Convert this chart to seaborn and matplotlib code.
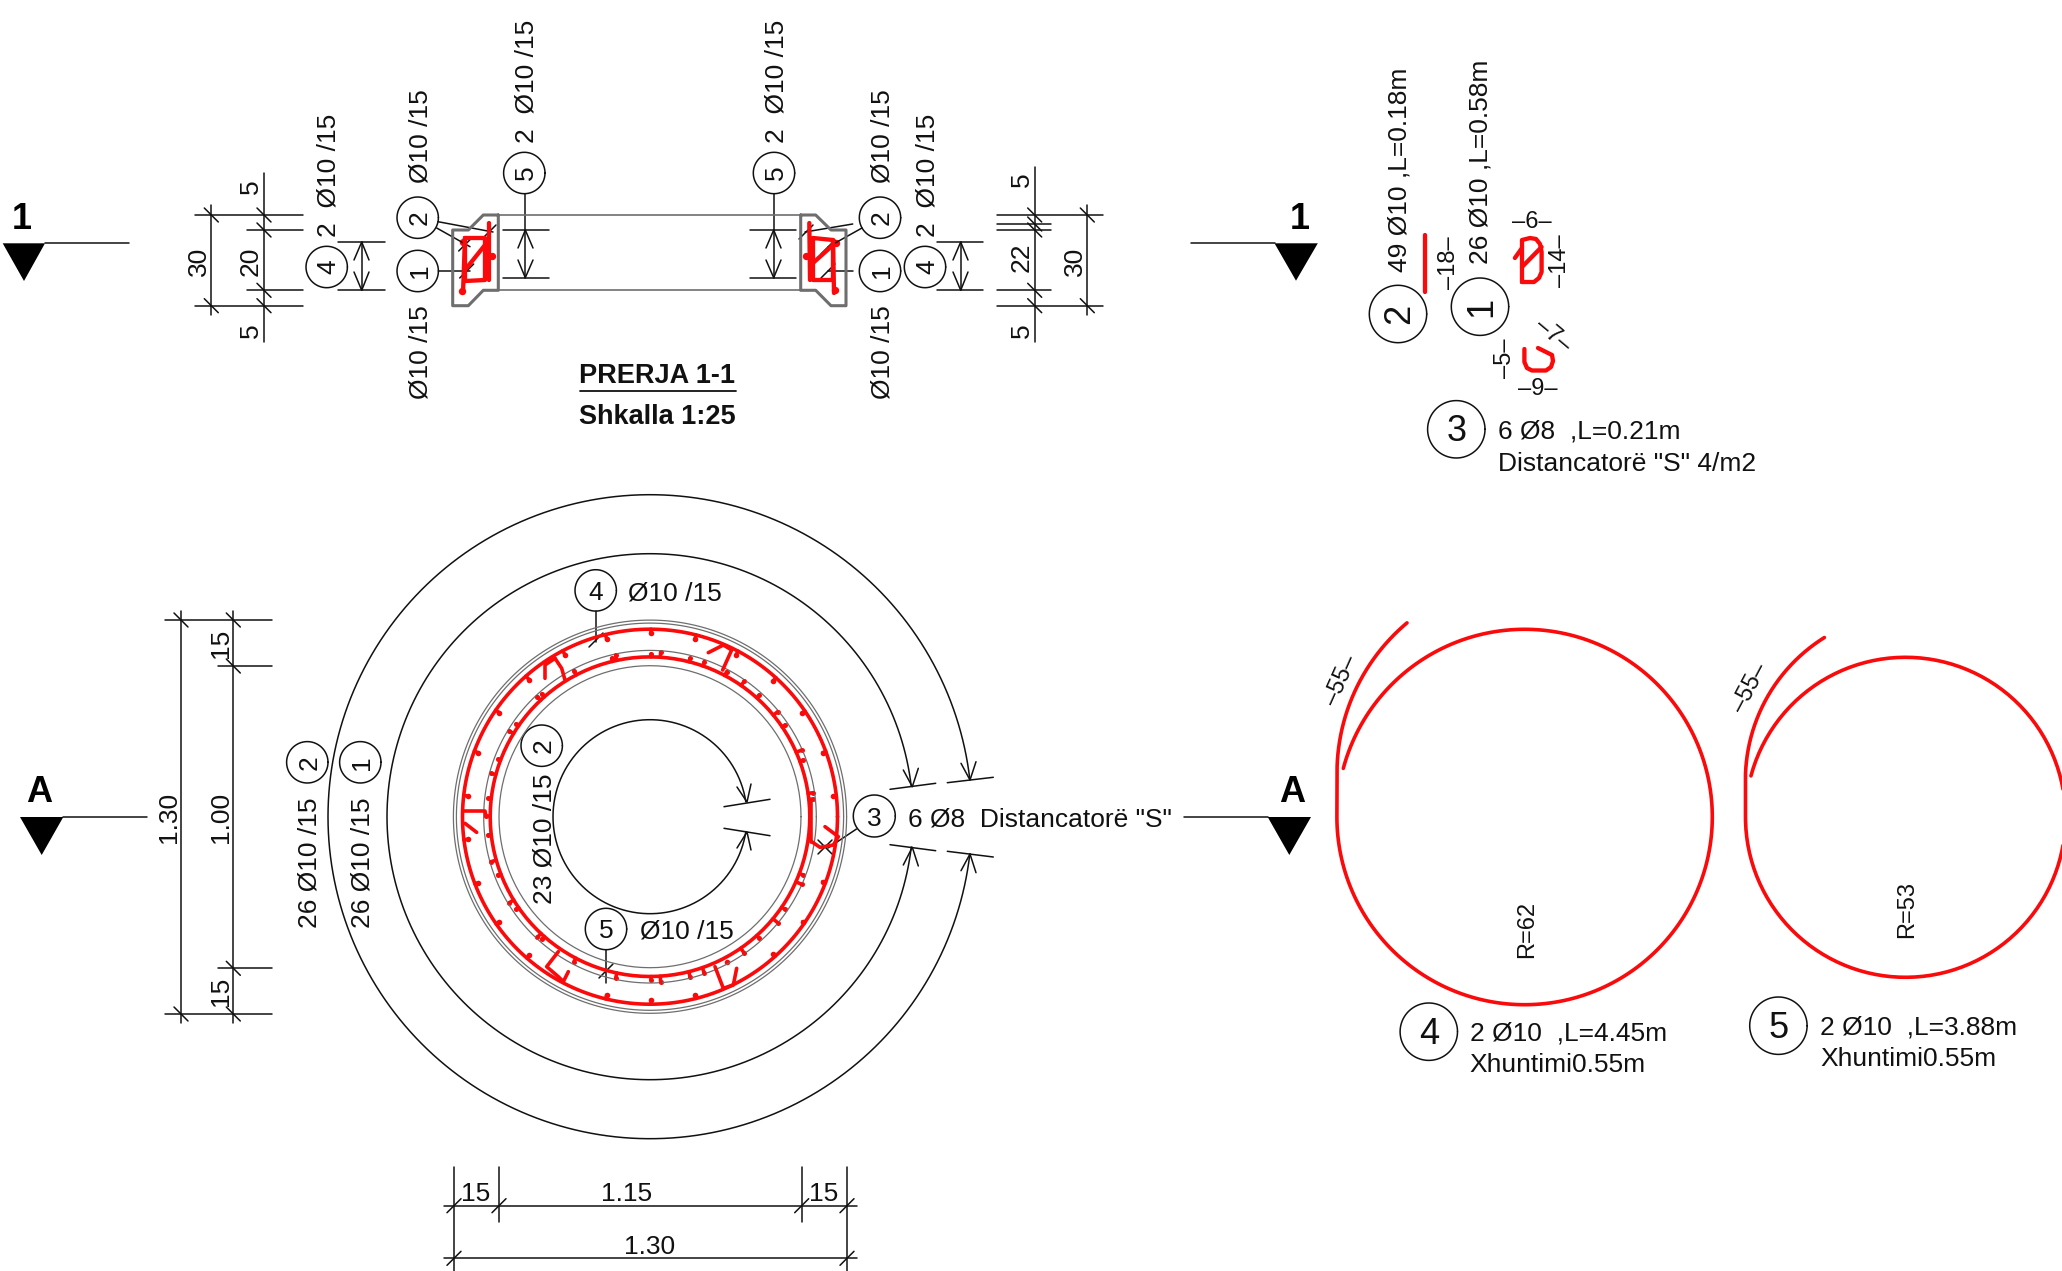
import numpy as np
import pandas as pd
import seaborn as sns
import matplotlib.pyplot as plt

WIDTH, HEIGHT = 2062, 1271
FONT = "Liberation Sans"
BLACK = "#111111"
GREY = "#6e6e6e"
RED = "#fa0a0a"

# plan centre and the radii of the section rings
PLAN_X, PLAN_Y = 650, 816.7
GREY_RADII = [196.6, 193.6, 166.3, 151]
RED_RADII = [187.5, 159.8]

# thin dimension and leader lines, pixel position on the sheet
DIM_LINES = [
    [(195, 215), (303, 215)], [(195, 305.7), (303, 305.7)],
    [(247, 230), (303, 230)], [(247, 290.3), (303, 290.3)],
    [(211.3, 205), (211.3, 315)], [(264, 173), (264, 342)],
    [(338, 242), (385, 242)], [(338, 290.3), (385, 290.3)], [(361.7, 242), (361.7, 290.3)],
    [(525.3, 194), (525.3, 277.7)], [(502.7, 230), (548.7, 230)], [(502.7, 277.7), (548.7, 277.7)],
    [(438, 221.7), (493, 232)], [(436.7, 228), (470, 246.7)], [(439, 271), (470, 271)],
    [(773.7, 194), (773.7, 277.7)], [(750, 230), (796, 230)], [(750, 277.7), (796, 277.7)],
    [(852.7, 224), (805, 232)], [(862, 228), (828, 247)], [(852.7, 271), (828, 271)],
    [(937, 242), (983, 242)], [(937, 290.3), (983, 290.3)], [(960.7, 242), (960.7, 290.3)],
    [(996.7, 215), (1103, 215)], [(996.7, 305.7), (1103, 305.7)],
    [(996.7, 224), (1051, 224)], [(996.7, 230), (1051, 230)], [(996.7, 290.3), (1051, 290.3)],
    [(1034.7, 167), (1034.7, 342)], [(1087.3, 205), (1087.3, 315)],
    [(165, 620), (271.7, 620)], [(165, 1014), (271.7, 1014)],
    [(217.7, 666), (271.7, 666)], [(217.7, 968.3), (271.7, 968.3)],
    [(181, 610.7), (181, 1023)], [(233.3, 610.7), (233.3, 1023)],
    [(444, 1205.7), (856.7, 1205.7)], [(444, 1258.3), (856.7, 1258.3)],
    [(454, 1167), (454, 1271)], [(847, 1167), (847, 1271)],
    [(499, 1167), (499, 1222)], [(801.7, 1167), (801.7, 1222)],
    [(596, 611), (596, 642)], [(606, 950), (606, 983)], [(856.5, 829), (828, 848)],
    [(890, 789.3), (935.7, 783.3)], [(947.3, 782.7), (993.3, 777.3)],
    [(890, 844.7), (935.7, 850.7)], [(947.3, 851.3), (993.3, 857)],
    [(724, 806.7), (770, 799.3)], [(724, 828.3), (770, 835.7)],
]

# open arrow heads: wing, tip, wing
ARROW_HEADS = [
    [(354, 260), (361.7, 242), (369, 260)], [(354, 272), (361.7, 290.3), (369, 272)],
    [(518, 248), (525.3, 230), (533, 248)], [(518, 260), (525.3, 277.7), (533, 260)],
    [(766, 248), (773.7, 230), (781, 248)], [(766, 260), (773.7, 277.7), (781, 260)],
    [(953, 260), (960.7, 242), (968, 260)], [(953, 272), (960.7, 290.3), (968, 272)],
    [(903.3, 770), (912.3, 786.7), (918.3, 768.3)], [(961, 763.3), (970, 780), (976, 761.7)],
    [(903.3, 865), (912.3, 847.3), (918.3, 866)], [(961, 870.7), (970, 854), (976, 872.7)],
    [(737, 787), (747, 802), (751, 784)], [(737, 848), (747, 832), (751, 850)],
]

# 45 degree dimension ticks
TICKS_BACK = [(211.3, 215), (211.3, 305.7), (264, 215), (264, 230), (264, 290.3), (264, 305.7),
              (1034.7, 215), (1034.7, 224), (1034.7, 230), (1034.7, 290.3), (1034.7, 305.7),
              (1087.3, 215), (1087.3, 305.7),
              (181, 620), (181, 1014), (233.3, 620), (233.3, 666), (233.3, 968.3), (233.3, 1014)]
TICKS_FWD = [(465.7, 244), (466.7, 271), (489, 232), (806, 232), (828, 247), (828, 271),
             (454, 1205.7), (499, 1205.7), (801.7, 1205.7), (847, 1205.7),
             (454, 1258.3), (847, 1258.3), (596, 640), (606, 971), (825, 847)]
TICK_CROSS = [(825, 847)]

# circled position marks: x, y, radius, label, font size
MARKS = [
    (326.7, 267, 20.7, "4", 19), (417.7, 217.7, 20.7, "2", 19), (417.7, 271, 20.7, "1", 19),
    (524.3, 173, 20.7, "5", 19), (774, 173, 20.7, "5", 19), (880, 217.7, 20.7, "2", 19),
    (880, 271, 20.7, "1", 19), (925, 267, 20.7, "4", 19),
    (307.3, 762.3, 20.7, "2", 19), (360.3, 762.3, 20.7, "1", 19), (541.7, 745.7, 20.7, "2", 19),
    (1398, 314, 28.7, "2", 26), (1480, 306.7, 28.7, "1", 26),
]
MARKS_FLAT = [
    (595.7, 590.4, 20.7, "4", 19), (606, 929, 20.7, "5", 19), (874.3, 816, 21, "3", 19),
    (1456.3, 429.3, 28.7, "3", 26), (1428.8, 1031.7, 28.7, "4", 26), (1778.4, 1025.7, 28.7, "5", 26),
]

# rotated texts: x, y, label, size
TEXT_UP = [
    (197, 261, "30", 19), (249, 261, "20", 19), (249, 187, "5", 19), (249, 331, "5", 19),
    (327, 175, "2  Ø10 /15", 19), (418, 136, "Ø10 /15", 19), (418, 352, "Ø10 /15", 19),
    (525, 81, "2  Ø10 /15", 19), (774, 81, "2  Ø10 /15", 19),
    (881, 136, "Ø10 /15", 19), (881, 352, "Ø10 /15", 19), (925.7, 175, "2  Ø10 /15", 19),
    (1020, 180, "5", 19), (1020, 257, "22", 19), (1020, 331, "5", 19), (1072.7, 261, "30", 19),
    (166.7, 817.7, "1.30", 19), (219, 817.7, "1.00", 19), (219, 643, "15", 19), (219, 991.7, "15", 19),
    (307.3, 863, "26 Ø10 /15", 19), (361, 863, "26 Ø10 /15", 19), (542.7, 839, "23 Ø10 /15", 19),
    (1397.4, 169.5, "49 Ø10 ,L=0.18m", 19), (1478.5, 161.5, "26 Ø10 ,L=0.58m", 19),
]
TEXT_FLAT_CENTER = [
    (475.7, 1191.7, "15"), (626.7, 1191.7, "1.15"), (823.3, 1191.7, "15"), (649.3, 1244, "1.30"),
]
TEXT_FLAT_LEFT = [
    (628, 591, "Ø10 /15"), (640, 929, "Ø10 /15"), (908.3, 817, '6 Ø8  Distancatorë "S"'),
    (1498.4, 429, "6 Ø8  ,L=0.21m"), (1498.4, 461.7, 'Distancatorë "S" 4/m2'),
    (1469.7, 1031, "2 Ø10  ,L=4.45m"), (1469.7, 1063, "Xhuntimi0.55m"),
    (1820.3, 1025, "2 Ø10  ,L=3.88m"), (1820.3, 1056.7, "Xhuntimi0.55m"),
]
# bar dimensions written along the bar: x, y, label, rotation
BAR_DIMS = [
    (1449, 262.7, "–18–", 90), (1532, 221.7, "–6–", 0), (1560, 260.7, "–14–", 90),
    (1505, 358, "–5–", 90), (1538, 389, "–9–", 0), (1553, 335, "–7–", -40),
    (1341, 680, "–55–", 66), (1750.4, 688, "–55–", 62),
]
RADIUS_LABELS = [(1525, 929, "R=62"), (1905.5, 910, "R=53")]

# section outlines
SECTION_LEFT = [(498.3, 215), (483.3, 215), (468.3, 230), (452.7, 230), (452.7, 305.7), (468.3, 305.7),
                (483.3, 290.3), (498.3, 290.3), (498.3, 215)]
SECTION_RIGHT = [(800.7, 215), (815.7, 215), (831, 230), (846, 230), (846, 305.7), (831, 305.7),
                 (815.7, 290.3), (800.7, 290.3), (800.7, 215)]
WALL_LINES = [[(498.3, 215), (800.7, 215)], [(498.3, 290.3), (800.7, 290.3)]]

# cut markers: line, triangle
CUT_LINES = [[(45, 243.3), (129, 243.3)], [(1190.7, 243.3), (1275, 243.3)],
             [(63, 817), (146.7, 817)], [(1184, 817), (1268, 817)]]
CUT_TRIANGLES = [
    [(2.7, 243.3), (45, 243.3), (24, 281)], [(1274.5, 243.3), (1317.8, 243.3), (1296, 280.7)],
    [(20, 817), (63.3, 817), (41.7, 855)], [(1267.7, 817), (1311, 817), (1289.3, 855)],
]
CUT_LABELS = [(21.7, 217, "1"), (1299.4, 217, "1"), (38.7, 790, "A"), (1292.3, 790, "A")]

# red bars of section 1-1
RED_SECTION = [
    [(489.3, 223), (489.3, 280)],
    [(465, 238), (485, 238), (485, 280), (465, 281), (465, 238)],
    [(465, 270), (485, 245)], [(463, 293), (465, 238)],
    [(809.3, 223), (810, 280)],
    [(813, 238), (833, 240), (833, 280), (813, 280), (813, 238)],
    [(833, 240), (834, 293)], [(813, 263), (833, 245)],
]
RED_SECTION_DOTS = [(461.5, 291), (463, 242), (491.5, 256), (835, 290), (836, 243), (806, 256)]

# red bar shapes next to the section
RED_BAR_18 = [(1425, 235), (1425, 291.7)]
RED_BAR_D = [(1522, 282), (1522, 240), (1530, 238), (1536, 239), (1540, 244), (1541.6, 252),
             (1541.6, 272), (1539, 278), (1534, 282), (1522, 282)]
RED_BAR_D2 = [(1514.9, 258), (1522, 248)]
RED_BAR_D3 = [(1522, 267), (1541.6, 247)]
RED_BAR_S = [(1524.4, 349), (1524.4, 362), (1527, 368), (1532, 370.5), (1546, 370.5), (1551, 367),
             (1553, 361), (1552, 355), (1538, 348)]

# hooks and stirrups on the plan, crop position
HOOKS_PLAN = [
    [(375, 175), (395, 205), (405, 240)], [(345, 235), (345, 195), (375, 175)],
    [(835, 158), (880, 135), (905, 150), (878, 210)],
    [(100, 633), (165, 633), (168, 650)], [(105, 670), (140, 697)],
    [(385, 1055), (350, 1100), (385, 1130), (400, 1145), (415, 1115)],
    [(855, 1100), (880, 1165), (910, 1155), (920, 1105)],
    [(1145, 725), (1170, 742), (1210, 735), (1225, 710), (1185, 680)],
    [(1142, 600), (1142, 725)],
]
DOTS_OUTER = [(663, 100), (795, 118), (1030, 242), (1115, 340), (1178, 458), (1210, 588), (1178, 845),
              (1118, 965), (1030, 1062), (795, 1185), (663, 1200), (530, 1185), (298, 1065), (208, 965),
              (145, 848), (115, 718), (115, 588), (145, 458), (208, 338), (298, 240), (530, 118),
              (405, 165), (918, 165), (890, 1085)]
DOTS_INNER = [(663, 162), (692, 157), (780, 175), (823, 185), (890, 215), (943, 243), (988, 285),
              (1043, 335), (1065, 375), (1115, 450), (1120, 480), (1150, 578), (1148, 597), (1120, 825),
              (1115, 853), (1065, 928), (1043, 968), (988, 1015), (943, 1060), (823, 1120), (780, 1130),
              (692, 1146), (663, 1140), (557, 1135), (432, 1085), (335, 1018), (322, 1012), (258, 928),
              (238, 908), (203, 825), (183, 785), (175, 705), (168, 648), (175, 595), (183, 520),
              (205, 478), (238, 393), (258, 372), (322, 290), (335, 282), (432, 212), (545, 175), (557, 165)]

# lapped rings: centre, radius, start angle, then the tail arc
RING4_CENTRE, RING4_R, RING4_START = (1524.6, 817), 187.7, -165
RING4_TAIL = (1533, 773, 196, 230)
RING5_CENTRE, RING5_R, RING5_START = (1905.5, 817.3), 160, -165
RING5_TAIL = (1913.4, 780, 168, 238)

# black reference arcs around the plan: radius, gap half angle in degrees
PLAN_ARCS = [(322, 6.6), (263, 6.6), (97, 8.8)]


def arc(cx, cy, r, a0=0, a1=360):
    t = np.radians(np.linspace(a0, a1, 241))
    return list(zip(cx + r * np.cos(t), cy + r * np.sin(t)))


def from_crop(pts, x0=430, y0=600, s=3):
    return [(x0 + x / s, y0 + y / s) for x, y in pts]


def stubs(pts, radius):
    # short bar ends joining each dot to its ring
    out = []
    for x, y in pts:
        d = np.hypot(x - PLAN_X, y - PLAN_Y)
        if abs(d - radius) < 10:
            k = radius / d
            out.append([(x, y), (PLAN_X + (x - PLAN_X) * k, PLAN_Y + (y - PLAN_Y) * k)])
    return out


def lapped_ring(centre, r, start, tail):
    cx, cy, tr, end = tail
    return arc(*centre, r, start, 180) + arc(cx, cy, tr, 180, end)


def draw_lines(ax, lines, color, lw):
    rows = []
    for i, line in enumerate(lines):
        for x, y in line:
            rows.append({"seg": i, "x": x, "y": y})
    df = pd.DataFrame(rows)
    sns.lineplot(data=df, x="x", y="y", units="seg", estimator=None, sort=False,
                 color=color, linewidth=lw, legend=False, ax=ax)


def draw_dots(ax, pts, size):
    df = pd.DataFrame(pts, columns=["x", "y"])
    sns.scatterplot(data=df, x="x", y="y", color=RED, s=size, linewidth=0, legend=False, ax=ax)


sns.set_theme(style="white")
plt.rcParams["font.family"] = [FONT, "DejaVu Sans"]
fig = plt.figure(figsize=(WIDTH / 100, HEIGHT / 100), dpi=100)
ax = fig.add_axes([0, 0, 1, 1])

# black lines
lines = list(DIM_LINES) + list(CUT_LINES)
lines += ARROW_HEADS
lines += [[(x - 7, y - 7), (x + 7, y + 7)] for x, y in TICKS_BACK + TICK_CROSS]
lines += [[(x - 7, y + 7), (x + 7, y - 7)] for x, y in TICKS_FWD]
draw_lines(ax, lines, BLACK, 1.1)

marks = [arc(x, y, r) for x, y, r, _, _ in MARKS + MARKS_FLAT]
for r, gap in PLAN_ARCS:
    marks.append(arc(PLAN_X, PLAN_Y, r, gap, 360 - gap))
draw_lines(ax, marks, BLACK, 1.1)

# concrete
draw_lines(ax, [SECTION_LEFT, SECTION_RIGHT], GREY, 2.2)
draw_lines(ax, WALL_LINES, GREY, 1.2)
draw_lines(ax, [arc(PLAN_X, PLAN_Y, r) for r in GREY_RADII], GREY, 0.9)

# reinforcement
outer_dots = from_crop(DOTS_OUTER)
inner_dots = from_crop(DOTS_INNER)
red = [arc(PLAN_X, PLAN_Y, r) for r in RED_RADII]
red += [from_crop(h) for h in HOOKS_PLAN]
red += stubs(outer_dots, RED_RADII[0]) + stubs(inner_dots, RED_RADII[1])
red.append(lapped_ring(RING4_CENTRE, RING4_R, RING4_START, RING4_TAIL))
red.append(lapped_ring(RING5_CENTRE, RING5_R, RING5_START, RING5_TAIL))
draw_lines(ax, red, RED, 2.6)
draw_lines(ax, RED_SECTION + [RED_BAR_18, RED_BAR_D, RED_BAR_D2, RED_BAR_D3, RED_BAR_S], RED, 3.1)
draw_dots(ax, outer_dots, 16)
draw_dots(ax, inner_dots, 13)
draw_dots(ax, RED_SECTION_DOTS, 28)

for tri in CUT_TRIANGLES:
    xs, ys = zip(*tri)
    ax.fill(xs, ys, color="black", lw=0)

# texts, nudged because matplotlib centres on the box with its descent
UP = 2
DOWN = 2.5
for x, y, r, label, size in MARKS:
    ax.text(x + UP, y, label, rotation=90, ha="center", va="center", fontsize=size, color=BLACK)
for x, y, r, label, size in MARKS_FLAT:
    ax.text(x, y + DOWN, label, ha="center", va="center", fontsize=size, color=BLACK)
for x, y, label, size in TEXT_UP:
    ax.text(x + UP, y, label, rotation=90, ha="center", va="center", fontsize=size, color=BLACK)
for x, y, label in TEXT_FLAT_CENTER:
    ax.text(x, y + DOWN, label, ha="center", va="center", fontsize=19, color=BLACK)
for x, y, label in TEXT_FLAT_LEFT:
    ax.text(x, y + DOWN, label, ha="left", va="center", fontsize=19, color=BLACK)
for x, y, label, rot in BAR_DIMS:
    ax.text(x, y, label, rotation=rot, ha="center", va="center", fontsize=17, color=BLACK)
for x, y, label in RADIUS_LABELS:
    ax.text(x + UP, y, label, rotation=90, ha="center", va="center", fontsize=17, color=BLACK)
for x, y, label in CUT_LABELS:
    ax.text(x, y + DOWN, label, ha="center", va="center", fontsize=26, fontweight="bold", color="black")

ax.text(657, 376, "PRERJA 1-1", ha="center", va="center", fontsize=19.5, fontweight="bold", color=BLACK)
ax.text(657, 417, "Shkalla 1:25", ha="center", va="center", fontsize=19.5, fontweight="bold", color=BLACK)
draw_lines(ax, [[(580, 390.7), (736, 390.7)]], BLACK, 1.3)

ax.set_xlim(0, WIDTH)
ax.set_ylim(HEIGHT, 0)
ax.axis("off")
fig.savefig("out.png", dpi=100, facecolor="white")
plt.close(fig)
